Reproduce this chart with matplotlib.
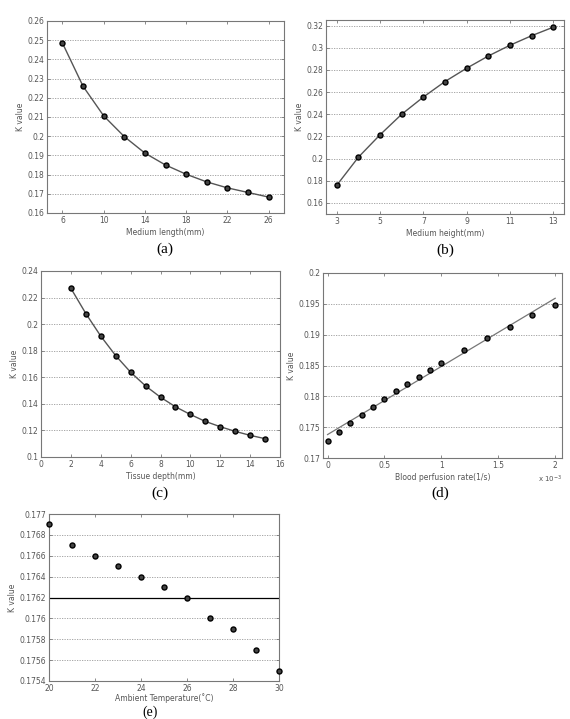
import numpy as np
import matplotlib
matplotlib.use("Agg")
import matplotlib.pyplot as plt
from matplotlib.ticker import FormatStrFormatter

# (a) medium length
len_x = [6, 8, 10, 12, 14, 16, 18, 20, 22, 24, 26]
len_k = [0.2485, 0.2260, 0.2106, 0.1998, 0.1912, 0.1850, 0.1802, 0.1762, 0.1731, 0.1707, 0.1683]

# (b) medium height
hgt_x = [3, 4, 5, 6, 7, 8, 9, 10, 11, 12, 13]
hgt_k = [0.1760, 0.2013, 0.2215, 0.2400, 0.2555, 0.2695, 0.2815, 0.2925, 0.3022, 0.3108, 0.3185]

# (c) tissue depth
dep_x = [2, 3, 4, 5, 6, 7, 8, 9, 10, 11, 12, 13, 14, 15]
dep_k = [0.2270, 0.2080, 0.1910, 0.1763, 0.1638, 0.1535, 0.1450, 0.1378, 0.1320,
         0.1268, 0.1228, 0.1193, 0.1163, 0.1138]

# (d) blood perfusion rate (x 1e-3)
per_x = [0, 0.1, 0.2, 0.3, 0.4, 0.5, 0.6, 0.7, 0.8, 0.9, 1.0, 1.2, 1.4, 1.6, 1.8, 2.0]
per_k = [0.1728, 0.1742, 0.1756, 0.1770, 0.1783, 0.1796, 0.1809, 0.1820, 0.1832,
         0.1843, 0.1854, 0.1875, 0.1895, 0.1913, 0.1932, 0.1948]
per_fit_x = [0, 2.0]
per_fit_k = [0.1738, 0.1959]

# (e) ambient temperature
amb_x = [20, 21, 22, 23, 24, 25, 26, 27, 28, 29, 30]
amb_k = [0.1769, 0.1767, 0.1766, 0.1765, 0.1764, 0.1763, 0.1762, 0.1760, 0.1759, 0.1757, 0.1755]
amb_ref = 0.1762

W, H = 570, 719
fig = plt.figure(figsize=(W / 100, H / 100), dpi=100)
fig.patch.set_facecolor("white")

tick_col = "#555555"


def make_ax(l, t, r, b):
    ax = fig.add_axes([l / W, 1 - b / H, (r - l) / W, (b - t) / H])
    for s in ax.spines.values():
        s.set_color("#777777")
        s.set_linewidth(0.8)
    ax.tick_params(direction="in", top=True, right=True, length=2.5, width=0.6,
                   colors="#777777", labelcolor=tick_col, labelsize=5.5, pad=2)
    ax.yaxis.grid(True, linestyle=(0, (1.5, 1.5)), color="#999999", linewidth=0.6)
    ax.set_axisbelow(True)
    return ax


def points(ax, x, y):
    ax.plot(x, y, "o", ms=3.6, mfc="#444444", mec="black", mew=1.0, zorder=3,
            clip_on=False)


def panel_label(x, y, s, va="center", size=11):
    fig.text(x / W, 1 - y / H, s, ha="center", va=va, fontsize=size,
             family="Liberation Serif")


# (a)
ax = make_ax(47, 21, 284, 213)
ax.plot(len_x, len_k, "-", color="#555555", lw=1.0)
points(ax, len_x, len_k)
ax.set_xlim(4.5, 27.5)
ax.set_ylim(0.16, 0.26)
ax.set_xticks([6, 10, 14, 18, 22, 26])
ax.set_yticks(np.arange(0.16, 0.2601, 0.01))
ax.yaxis.set_major_formatter(FormatStrFormatter("%g"))
ax.set_xlabel("Medium length(mm)", fontsize=5.5, color=tick_col, labelpad=2)
ax.set_ylabel("K value", fontsize=5.5, color=tick_col, labelpad=2)
panel_label(165, 249, "(a)")

# (b)
ax = make_ax(326, 20, 564, 214)
ax.plot(hgt_x, hgt_k, "-", color="#555555", lw=1.0)
points(ax, hgt_x, hgt_k)
ax.set_xlim(2.5, 13.5)
ax.set_ylim(0.15, 0.325)
ax.set_xticks([3, 5, 7, 9, 11, 13])
ax.set_yticks(np.arange(0.16, 0.3201, 0.02))
ax.yaxis.set_major_formatter(FormatStrFormatter("%g"))
ax.set_xlabel("Medium height(mm)", fontsize=5.5, color=tick_col, labelpad=2)
ax.set_ylabel("K value", fontsize=5.5, color=tick_col, labelpad=2)
panel_label(445, 250, "(b)")

# (c)
ax = make_ax(41, 271, 280, 457)
ax.plot(dep_x, dep_k, "-", color="#555555", lw=1.0)
points(ax, dep_x, dep_k)
ax.set_xlim(0, 16)
ax.set_ylim(0.1, 0.24)
ax.set_xticks(range(0, 17, 2))
ax.set_yticks(np.arange(0.1, 0.2401, 0.02))
ax.yaxis.set_major_formatter(FormatStrFormatter("%g"))
ax.set_xlabel("Tissue depth(mm)", fontsize=5.5, color=tick_col, labelpad=2)
ax.set_ylabel("K value", fontsize=5.5, color=tick_col, labelpad=2)
panel_label(160, 493, "(c)")

# (d)
ax = make_ax(323, 273, 562, 458)
ax.plot(per_fit_x, per_fit_k, "-", color="#777777", lw=0.9)
points(ax, per_x, per_k)
ax.set_xlim(-0.04, 2.06)
ax.set_ylim(0.17, 0.2)
ax.set_xticks([0, 0.5, 1, 1.5, 2])
ax.set_yticks(np.arange(0.17, 0.2001, 0.005))
ax.xaxis.set_major_formatter(FormatStrFormatter("%g"))
ax.yaxis.set_major_formatter(FormatStrFormatter("%g"))
ax.set_xlabel("Blood perfusion rate(1/s)", fontsize=5.5, color=tick_col, labelpad=2)
ax.set_ylabel("K value", fontsize=5.5, color=tick_col, labelpad=2)
ax.text(1.0, -0.085, r"x 10$^{-3}$", transform=ax.transAxes, ha="right",
        va="top", fontsize=5, color=tick_col)
panel_label(440, 493, "(d)")

# (e)
ax = make_ax(49, 514, 279, 681)
ax.axhline(amb_ref, color="black", lw=0.9)
points(ax, amb_x, amb_k)
ax.set_xlim(20, 30)
ax.set_ylim(0.1754, 0.177)
ax.set_xticks(range(20, 31, 2))
ax.set_yticks(np.arange(0.1754, 0.17701, 0.0002))
ax.yaxis.set_major_formatter(FormatStrFormatter("%g"))
ax.set_xlabel("Ambient Temperature(\u02daC)", fontsize=5.5, color=tick_col, labelpad=0.5)
ax.set_ylabel("K value", fontsize=5.5, color=tick_col, labelpad=2)
panel_label(150, 719, "(e)", va="bottom", size=10)

fig.savefig("out.png", dpi=100)
